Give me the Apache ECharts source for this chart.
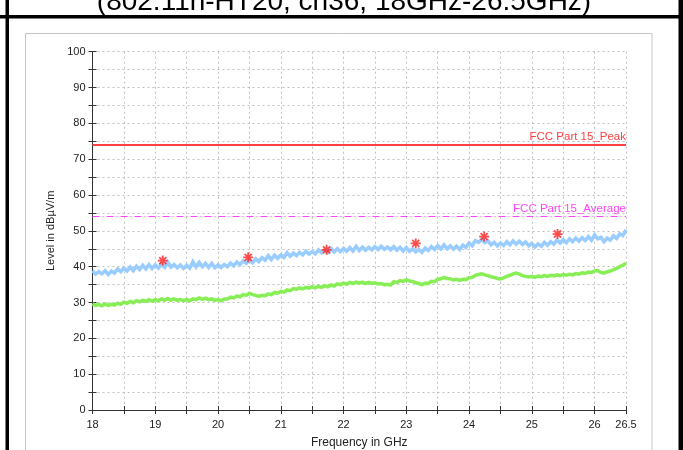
<!DOCTYPE html>
<html><head><meta charset="utf-8">
<script src="https://cdn.jsdelivr.net/npm/echarts/dist/echarts.min.js"></script>
<style>html,body{margin:0;padding:0;background:#fff;}#c{width:683px;height:450px;}</style>
</head><body><div id="c"></div>
<script>
// sampling grid of the traces (GHz)
const freqStart = 18;
const freqStep = 0.05;
// peak detector trace (dBµV/m), 18.00 ... 26.50 GHz
const blueLevels = [
38.9,37.9,38.6,38.0,38.9,37.8,38.8,38.2,39.4,38.6,
39.6,38.8,39.9,38.9,40.1,39.2,40.4,39.4,40.6,39.5,
40.5,39.6,40.7,39.8,41.3,39.9,40.6,39.7,40.5,39.5,
40.4,39.6,41.4,39.9,41.2,40.0,40.9,39.8,40.9,39.7,
40.5,39.8,40.6,40.0,41.0,40.2,41.3,40.6,41.6,40.9,
41.9,41.1,42.2,41.4,42.5,41.8,43.1,42.0,43.2,42.3,
43.3,42.6,43.9,42.9,43.8,43.1,44.0,43.3,44.3,43.5,
44.2,43.6,44.7,43.9,44.8,44.0,45.1,44.1,45.0,44.2,
45.1,44.3,45.3,44.4,45.7,44.5,45.5,44.6,45.4,44.7,
45.6,44.8,45.7,44.8,45.5,44.7,45.6,44.6,45.4,44.4,
45.3,44.3,45.0,44.1,44.8,44.0,45.2,44.5,45.6,44.8,
45.9,45.0,46.1,45.0,45.8,44.9,45.7,44.8,46.0,45.4,
46.6,45.9,47.3,46.8,47.6,46.7,47.2,46.1,46.8,45.8,
46.6,45.9,47.0,46.1,47.2,46.3,47.1,46.2,46.9,45.8,
46.5,45.5,46.4,45.7,46.8,46.0,47.0,46.3,47.4,46.6,
47.5,46.7,47.8,47.0,48.0,47.1,48.1,47.3,48.4,47.4,
48.9,47.8,48.2,47.0,48.0,47.4,48.6,47.9,49.2,48.7,
50.3
];
// average detector trace (dBµV/m), 18.00 ... 26.50 GHz
const greenLevels = [
29.6,29.2,29.5,29.1,29.6,29.2,29.5,29.3,29.8,29.5,
30.1,29.8,30.3,29.9,30.5,30.2,30.6,30.3,30.8,30.4,
30.8,30.5,31.0,30.6,31.1,30.7,31.0,30.6,30.9,30.5,
30.8,30.5,31.0,30.8,31.3,30.9,31.2,30.8,31.0,30.6,
30.8,30.5,31.0,31.0,31.5,31.3,31.8,31.6,32.2,32.0,
32.6,32.2,32.0,31.7,32.0,31.9,32.4,32.2,32.8,32.6,
33.1,32.9,33.5,33.3,33.9,33.7,34.1,33.8,34.2,34.0,
34.4,34.1,34.5,34.2,34.7,34.4,34.9,34.6,35.2,35.0,
35.4,35.1,35.6,35.3,35.7,35.4,35.7,35.3,35.6,35.3,
35.5,35.2,35.3,35.0,35.1,34.9,35.8,35.6,36.1,35.9,
36.3,36.0,35.9,35.5,35.3,35.0,35.4,35.3,35.9,35.8,
36.5,36.6,37.0,36.7,36.6,36.3,36.5,36.2,36.5,36.4,
36.9,37.0,37.6,37.8,38.0,37.7,37.5,37.2,37.0,36.7,
36.6,36.9,37.3,37.6,38.0,38.2,37.9,37.5,37.3,37.1,
37.3,37.0,37.4,37.2,37.5,37.3,37.6,37.4,37.7,37.5,
37.8,37.6,37.9,37.7,38.1,37.9,38.3,38.1,38.5,38.4,
38.8,38.9,38.4,38.2,38.6,38.8,39.2,39.5,40.0,40.4,
41.0
];
// final peak markers
const markerFreqs = [19.12, 20.48, 21.73, 23.15, 24.24, 25.41];
const markerLevels = [41.7, 42.6, 44.7, 46.5, 48.4, 49.1];
// limit lines
const limitPeak = 74;
const limitAvg = 54;
const limitPeakName = 'FCC Part 15_Peak';
const limitAvgName = 'FCC Part 15_Average';
// axes
const xMin = 18, xMax = 26.5, xTickStep = 0.5;
const yMin = 0, yMax = 100, yTickStep = 5;
const titleText = '(802.11n-HT20, ch36, 18GHz-26.5GHz)';
const xName = 'Frequency in GHz';
const yName = 'Level in dBµV/m';

const toPairs = arr => arr.map((v, i) => [+(freqStart + i * freqStep).toFixed(2), v]);
const FONT = 'Arial, "Liberation Sans", sans-serif';
const starPath = 'path://M-0.9,-5L0.9,-5L0.9,5L-0.9,5Z M-5,-0.9L5,-0.9L5,0.9L-5,0.9Z M-4.2,-2.9L-2.9,-4.2L4.2,2.9L2.9,4.2Z M2.9,-4.2L4.2,-2.9L-2.9,4.2L-4.2,2.9Z';

const chart = echarts.init(document.getElementById('c'), null, {renderer: 'canvas'});
const axisCommon = {
  type: 'value',
  axisLine: {show: true, lineStyle: {color: '#333', width: 1}},
  axisTick: {show: true, length: 4, lineStyle: {color: '#333', width: 1}}
};
function limitSeries(name, value, color, width, dash) {
  return {
    name: name, type: 'line', data: [], z: 2,
    markLine: {
      silent: true, symbol: 'none', animation: false,
      lineStyle: {color: color, width: width, type: dash},
      label: {position: 'insideEndTop', formatter: name, color: color,
        fontFamily: FONT, fontSize: 11.5, distance: [0, 2]},
      data: [{yAxis: value}]
    }
  };
}
chart.setOption({
  animation: false,
  backgroundColor: '#fff',
  grid: {left: 92.5, right: 57, top: 51.7, bottom: 40, containLabel: false, outerBoundsMode: 'none'},
  graphic: [
    {type: 'rect', z: -10, shape: {x: 25.5, y: 33.5, width: 626.5, height: 430}, style: {fill: '#fff', stroke: '#c4c4c4', lineWidth: 1}},
    {type: 'rect', z: 10, shape: {x: 5.5, y: 0, width: 3.5, height: 450}, style: {fill: '#000'}},
    {type: 'rect', z: 10, shape: {x: 678.5, y: 0, width: 5, height: 450}, style: {fill: '#000'}},
    {type: 'rect', z: 10, shape: {x: 0, y: 15, width: 683, height: 3.5}, style: {fill: '#000'}},
    {type: 'text', z: 10, style: {text: titleText, x: 344, y: 16, align: 'center', verticalAlign: 'bottom', font: '28px ' + FONT, fill: '#000'}}
  ],
  xAxis: [
    Object.assign({}, axisCommon, {
      min: xMin, max: xMax, interval: xTickStep, position: 'bottom',
      name: xName, nameLocation: 'middle', nameGap: 27,
      nameTextStyle: {fontFamily: FONT, fontSize: 12, color: '#222'},
      axisLabel: {fontFamily: FONT, fontSize: 11, color: '#222', margin: 9,
        formatter: v => (Number.isInteger(v) || v === xMax) ? String(v) : ''},
      splitLine: {show: true, lineStyle: {color: '#c0c0c0', type: [2, 3], width: 1}}
    }),
    Object.assign({}, axisCommon, {
      min: xMin, max: xMax, interval: xTickStep, position: 'bottom',
      axisTick: {show: true, inside: true, length: 4, lineStyle: {color: '#333'}},
      axisLabel: {show: false}, splitLine: {show: false}
    })
  ],
  yAxis: [
    Object.assign({}, axisCommon, {
      min: yMin, max: yMax, interval: yTickStep, position: 'left',
      name: yName, nameLocation: 'middle', nameGap: 29,
      nameTextStyle: {fontFamily: FONT, fontSize: 11, color: '#222'},
      axisLabel: {fontFamily: FONT, fontSize: 11, color: '#222', margin: 7,
        formatter: v => (v % 10 === 0) ? String(v) : ''},
      splitLine: {show: true, lineStyle: {color: '#c0c0c0', type: [2, 3], width: 1}}
    }),
    Object.assign({}, axisCommon, {
      min: yMin, max: yMax, interval: yTickStep, position: 'left',
      axisTick: {show: true, inside: true, length: 4, lineStyle: {color: '#333'}},
      axisLabel: {show: false}, splitLine: {show: false}
    })
  ],
  series: [
    limitSeries(limitPeakName, limitPeak, '#ff4040', 2, 'solid'),
    limitSeries(limitAvgName, limitAvg, '#ff44ff', 1, [7, 3, 1, 3]),
    {
      name: 'Peak', type: 'line', data: toPairs(blueLevels), showSymbol: false, symbol: 'none',
      lineStyle: {color: '#99ccff', width: 3.5, join: 'miter', miterLimit: 6}, z: 3
    },
    {
      name: 'Average', type: 'line', data: toPairs(greenLevels), showSymbol: false, symbol: 'none',
      lineStyle: {color: '#88ee55', width: 3.5, join: 'miter', miterLimit: 6}, z: 3
    },
    {
      name: 'Markers', type: 'scatter', data: markerFreqs.map((f, i) => [f, markerLevels[i]]),
      symbol: starPath, symbolSize: 10, itemStyle: {color: '#ff2020'}, z: 5
    }
  ]
});
</script>
</body></html>
